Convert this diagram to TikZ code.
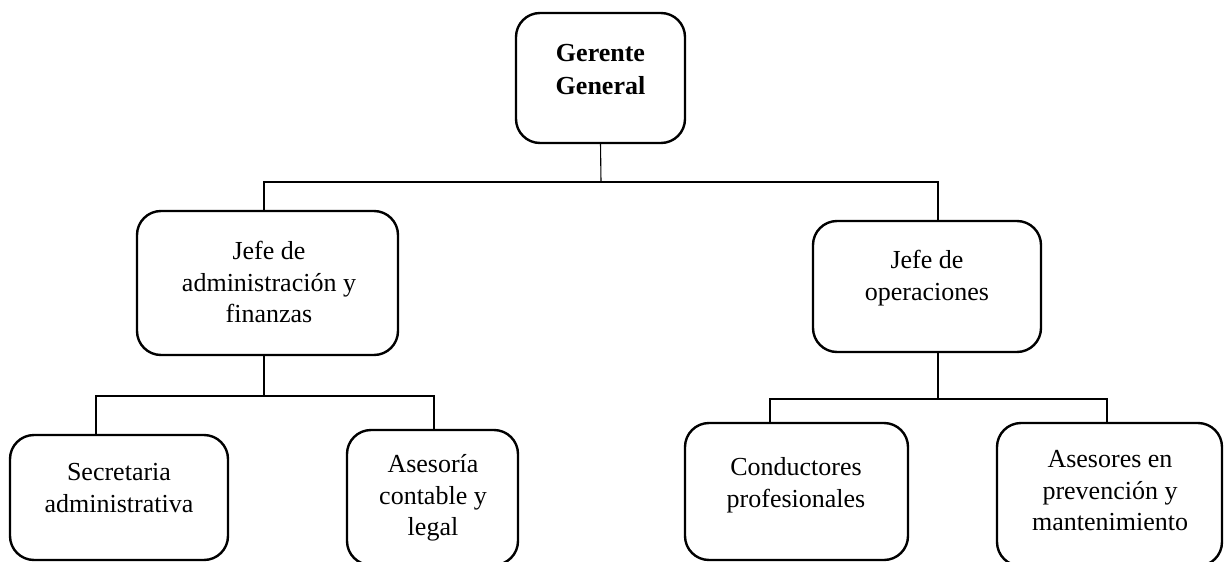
\documentclass[tikz,border=0pt]{standalone}
\usepackage{fontspec}
\setmainfont{Liberation Serif}
\begin{document}
\begin{tikzpicture}[x=1pt,y=-1pt,
  box/.style={draw=black, line width=2.4pt, rounded corners=24pt, fill=white,
    inner sep=0pt, outer sep=0pt, minimum width=#1},
  lbl/.style={font=\fontsize{26}{31.5}\selectfont, align=center, inner sep=0pt},
  conn/.style={draw=black, line width=1.1pt}]
\clip (0,0) rectangle (1224,562);
\fill[white] (0,0) rectangle (1224,562);
% boxes
\node[box=169pt, minimum height=130pt] (ger) at (600.5,78) {};
\node[box=261pt, minimum height=144pt] (adm) at (267.5,283) {};
\node[box=228pt, minimum height=131pt] (ops) at (927,286.5) {};
\node[box=218pt, minimum height=125pt] (sec) at (119,497.5) {};
\node[box=171pt, minimum height=135pt] (ase) at (432.5,497.5) {};
\node[box=223pt, minimum height=137pt] (con) at (796.5,491.5) {};
\node[box=225pt, minimum height=143pt] (asr) at (1109.5,494.5) {};
% labels
\node[lbl, font=\fontsize{26}{33}\selectfont\bfseries] (tger) at (600.5,70) {Gerente\\General};
\node[lbl] (tadm) at (269,282) {Jefe de\\administración y\\finanzas};
\node[lbl] (tops) at (927,278) {Jefe de\\operaciones};
\node[lbl] (tsec) at (119,488) {Secretaria\\administrativa};
\node[lbl] (tase) at (433,498) {Asesoría\\contable y\\legal};
\node[lbl] (tcon) at (796,485) {Conductores\\profesionales};
\node[lbl] (tasr) at (1110,491) {Asesores en\\prevención y\\mantenimiento};
% connectors
\coordinate (b1) at (601,182);
\coordinate (b2) at (264,396);
\coordinate (b3) at (938,399);
\draw[conn] (ger.south) -- (b1);
\draw[conn] ([xshift=-3.5pt]adm.north) |- (b1) -| ([xshift=11pt]ops.north);
\draw[conn] ([xshift=-3.5pt]adm.south) -- (b2);
\draw[conn] ([xshift=-23pt]sec.north) |- (b2) -| ([xshift=1.5pt]ase.north);
\draw[conn] ([xshift=11pt]ops.south) -- (b3);
\draw[conn] ([xshift=-26.5pt]con.north) |- (b3) -| ([xshift=-2.5pt]asr.north);
\end{tikzpicture}
\end{document}
